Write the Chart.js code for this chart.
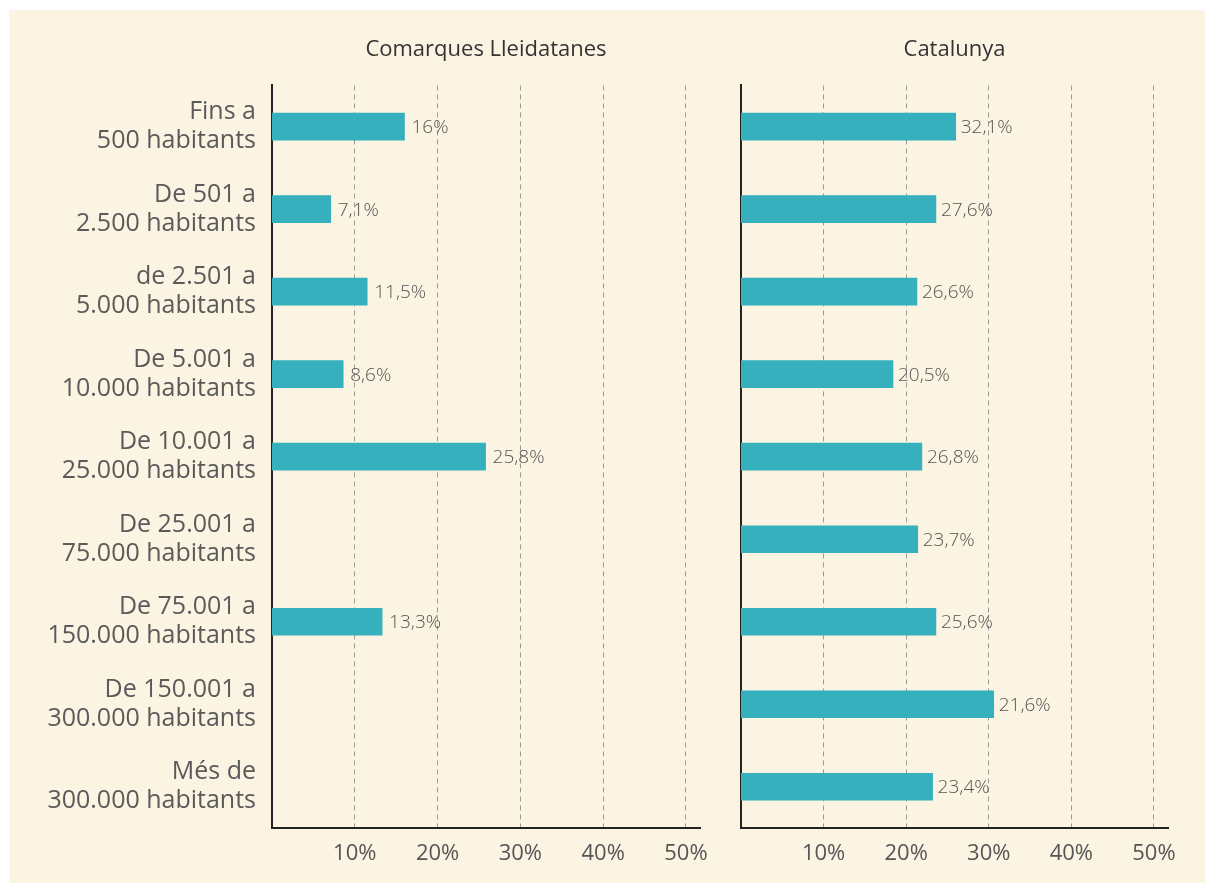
<!DOCTYPE html>
<html>
<head>
<meta charset="utf-8">
<script src="https://cdn.jsdelivr.net/npm/chart.js@4/dist/chart.umd.min.js"></script>
<style>
    body { margin: 0; background: #ffffff; width: 1205px; height: 883px; overflow: hidden; }
    #fons { position: absolute; left: 9px; top: 10px; width: 1196px; height: 873px; background: #fcf4e3; }
    #esquerra { position: absolute; left: 9px; top: 10px; }
    #dreta { position: absolute; left: 735px; top: 10px; }
</style>
</head>
<body>
<div id="fons"></div>
<canvas id="esquerra" width="726" height="873"></canvas>
<canvas id="dreta" width="470" height="873"></canvas>
<script>
const categories = [
    ["Fins a", "500 habitants"],
    ["De 501 a", "2.500 habitants"],
    ["de 2.501 a", "5.000 habitants"],
    ["De 5.001 a", "10.000 habitants"],
    ["De 10.001 a", "25.000 habitants"],
    ["De 25.001 a", "75.000 habitants"],
    ["De 75.001 a", "150.000 habitants"],
    ["De 150.001 a", "300.000 habitants"],
    ["Més de", "300.000 habitants"]
];

// Comarques Lleidatanes
const lleidaValors = [16, 7.1, 11.5, 8.6, 25.8, null, 13.3, null, null];
const lleidaEtiquetes = ["16%", "7,1%", "11,5%", "8,6%", "25,8%", "", "13,3%", "", ""];

// Catalunya: longitud de barra tal com es veu, i etiqueta escrita
const catalunyaValors = [26.0, 23.6, 21.3, 18.4, 21.9, 21.4, 23.6, 30.6, 23.2];
const catalunyaEtiquetes = ["32,1%", "27,6%", "26,6%", "20,5%", "26,8%", "23,7%", "25,6%", "21,6%", "23,4%"];

const tickValors = [10, 20, 30, 40, 50];

const etiquetesValor = {
    id: "etiquetesValor",
    afterDatasetsDraw(chart, args, opts) {
        const ctx = chart.ctx;
        const meta = chart.getDatasetMeta(0);
        ctx.save();
        ctx.font = "300 19px 'Open Sans'";
        ctx.fillStyle = "#555555";
        ctx.textBaseline = "middle";
        ctx.textAlign = "left";
        meta.data.forEach((bar, i) => {
            const text = opts.labels[i];
            if (!text || chart.data.datasets[0].data[i] === null) return;
            ctx.fillText(text, bar.x + opts.gap, bar.y + 1);
        });
        ctx.restore();
    }
};

function crearGrafic(id, titol, valors, etiquetes, yWidth, padRight, showLabels, gap) {
    return new Chart(document.getElementById(id), {
        type: "bar",
        data: {
            labels: categories,
            datasets: [{
                data: valors,
                backgroundColor: "#35b0bc",
                barThickness: 27
            }]
        },
        plugins: [etiquetesValor],
        options: {
            responsive: false,
            animation: false,
            indexAxis: "y",
            layout: { padding: { right: padRight, left: 0, top: 0, bottom: 0 } },
            plugins: {
                legend: { display: false },
                tooltip: { enabled: false },
                title: {
                    display: true,
                    text: titol,
                    fullSize: false,
                    color: "#333333",
                    font: { family: "'Open Sans'", size: 22, weight: "normal" },
                    padding: { top: 27, bottom: 22 }
                },
                etiquetesValor: { labels: etiquetes, gap: gap }
            },
            scales: {
                x: {
                    min: 0,
                    max: 51.7,
                    afterFit: (scale) => { scale.height = 55; },
                    afterBuildTicks: (scale) => { scale.ticks = tickValors.map(v => ({ value: v })); },
                    grid: {
                        drawTicks: false,
                        color: "#9a9a9a",
                        lineWidth: 1
                    },
                    border: { display: true, color: "#222222", width: 2, dash: [5, 4] },
                    ticks: {
                        padding: 13,
                        color: "#555555",
                        font: { family: "'Open Sans'", size: 22 },
                        callback: (v) => v + "%"
                    }
                },
                y: {
                    afterFit: (scale) => { scale.width = yWidth; },
                    grid: { display: false },
                    border: { display: true, color: "#222222", width: 2 },
                    ticks: {
                        display: showLabels,
                        padding: 8,
                        color: "#5a5a5a",
                        font: { family: "'Open Sans'", size: 25, lineHeight: 1.16 }
                    }
                }
            }
        }
    });
}

const graficLleida = crearGrafic("esquerra", "Comarques Lleidatanes", lleidaValors, lleidaEtiquetes, 263, 35, true, 7);
const graficCatalunya = crearGrafic("dreta", "Catalunya", catalunyaValors, catalunyaEtiquetes, 6, 37, false, 5);
</script>
</body>
</html>
